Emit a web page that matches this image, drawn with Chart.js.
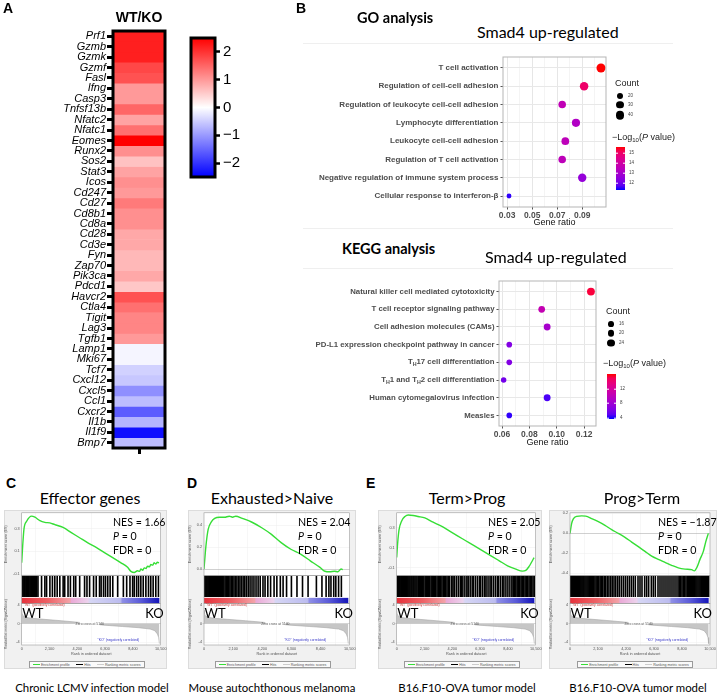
<!DOCTYPE html>
<html>
<head>
<meta charset="utf-8">
<script src="https://cdn.jsdelivr.net/npm/chart.js@4.4.1/dist/chart.umd.min.js"></script>
<style>
  body { margin: 0; background: #fff; }
  #page { position: relative; width: 720px; height: 694px; overflow: hidden; font-family: 'Liberation Sans', Arial, sans-serif; color: #000; }
  canvas { position: absolute; }
  .frame { position: absolute; background: #f1f1f1; border: 1px solid #dcdcdc; box-sizing: border-box; }
  .sep { position: absolute; height: 1px; background: #efefef; }
  .leg { position: absolute; background: #fafafa; border: 0.6px solid #9a9a9a; box-sizing: border-box; display: flex; align-items: center; justify-content: space-around; font-size: 3.6px; color: #555; }
  .leg span i { display: inline-block; width: 7px; height: 0; vertical-align: middle; margin-right: 1px; }
</style>
</head>
<body>
<div id="page">
  <div class="sep" style="left:303px;top:43px;width:370px"></div>
  <div class="sep" style="left:303px;top:228px;width:370px"></div>
  <div class="sep" style="left:303px;top:268px;width:370px"></div>

  <canvas id="heat" width="180" height="460" style="left:0;top:0"></canvas>
  <canvas id="heatBar" width="70" height="190" style="left:185px;top:0"></canvas>
  <canvas id="go" width="340" height="185" style="left:290px;top:45px"></canvas>
  <canvas id="kegg" width="340" height="180" style="left:290px;top:270px"></canvas>

  <div class="frame" style="left:4px;top:510px;width:163px;height:159px"></div>
  <div class="frame" style="left:188px;top:510px;width:168px;height:159px"></div>
  <div class="frame" style="left:378px;top:510px;width:164px;height:159px"></div>
  <div class="frame" style="left:549px;top:510px;width:168px;height:159px"></div>
  <canvas id="gC" width="163" height="159" style="left:4px;top:510px"></canvas>
  <canvas id="gD" width="168" height="159" style="left:188px;top:510px"></canvas>
  <canvas id="gE1" width="164" height="159" style="left:378px;top:510px"></canvas>
  <canvas id="gE2" width="168" height="159" style="left:549px;top:510px"></canvas>
</div>

<script>
'use strict';

// ---- panel A: heatmap ----
var genes = ['Prf1', 'Gzmb', 'Gzmk', 'Gzmf', 'Fasl', 'Ifng', 'Casp3', 'Tnfsf13b', 'Nfatc2', 'Nfatc1',
  'Eomes', 'Runx2', 'Sos2', 'Stat3', 'Icos', 'Cd247', 'Cd27', 'Cd8b1', 'Cd8a', 'Cd28',
  'Cd3e', 'Fyn', 'Zap70', 'Pik3ca', 'Pdcd1', 'Havcr2', 'Ctla4', 'Tigit', 'Lag3', 'Tgfb1',
  'Lamp1', 'Mki67', 'Tcf7', 'Cxcl12', 'Cxcl5', 'Ccl1', 'Cxcr2', 'Il1b', 'Il1f9', 'Bmp7'];
var wtko = [2.2, 2.2, 2.2, 1.8, 1.7, 1.0, 1.0, 1.5, 0.9, 1.4,
  2.5, 1.1, 0.6, 0.9, 1.1, 1.0, 1.3, 1.1, 1.1, 0.85,
  0.85, 0.7, 0.7, 0.85, 0.55, 1.7, 1.4, 1.2, 1.2, 1.0,
  -0.1, -0.1, -0.45, -0.55, -1.1, -0.65, -1.6, -0.75, -2.35, -0.65];
var heatTicks = [-2, -1, 0, 1, 2];

// ---- panel B: GO / KEGG ----
var goTerms = ['T cell activation', 'Regulation of cell-cell adhesion', 'Regulation of leukocyte cell-cell adhesion',
  'Lymphocyte differentiation', 'Leukocyte cell-cell adhesion', 'Regulation of T cell activation',
  'Negative regulation of immune system process', 'Cellular response to interferon-\u03b2'];
var goRatio = [0.105, 0.0915, 0.074, 0.085, 0.0765, 0.074, 0.09, 0.0315];
var goCount = [44, 39, 31, 36, 32, 31, 38, 13];
var goLogP = [15.6, 15.0, 13.6, 13.2, 13.5, 13.5, 12.6, 11.4];
var goSizeLegend = [20, 30, 40];
var goColorTicks = [12, 13, 14, 15];

var keggTerms = ['Natural killer cell mediated cytotoxicity', 'T cell receptor signaling pathway',
  'Cell adhesion molecules (CAMs)', 'PD-L1 expression checkpoint pathway in cancer',
  'T_H17 cell differentiation', 'T_H1 and T_H2 cell differentiation',
  'Human cytomegalovirus infection', 'Measles'];
var keggRatio = [0.125, 0.089, 0.093, 0.0653, 0.0653, 0.0612, 0.093, 0.0653];
var keggCount = [29, 21, 22, 15, 15, 14, 22, 15];
var keggLogP = [15.5, 10.5, 8.5, 6.5, 6.5, 5.8, 4.5, 4.0];
var keggSizeLegend = [16, 20, 24];
var keggColorTicks = [4, 8, 12];

// ---- panels C-E: GSEA ----
var effRank = [0, 75, 175, 375, 750, 1000, 1375, 1750, 2125, 2500, 3125, 3750, 4375, 5000, 5625, 6250, 6875, 7500,
  8000, 8250, 8500, 8750, 8900, 9000, 9150, 9250, 9400, 9500, 9650, 9750, 9900, 10000, 10125, 10250, 10375];
var effES = [0, 0.15, 0.30, 0.365, 0.41, 0.40, 0.37, 0.355, 0.35, 0.335, 0.31, 0.265, 0.22, 0.175, 0.135, 0.09, 0.045, 0.0,
  -0.04, -0.075, -0.085, -0.07, -0.075, -0.055, -0.065, -0.045, -0.05, -0.03, -0.035, -0.015, -0.02, 0.0, -0.01, 0.005, 0.0];
var effHits = [30, 110, 190, 260, 340, 420, 500, 560, 640, 720, 800, 880, 960, 1050, 1130, 1230, 1500, 1750, 1880, 2130,
  2320, 2500, 2680, 2880, 3130, 3250, 3500, 3680, 3930, 4080, 4380, 4750, 4930, 5130, 5430, 5630, 5880, 6000, 6180, 6330,
  6500, 6680, 6880, 7250, 7680, 7930, 8180, 8380, 8500, 8680, 8830, 9000, 9180, 9380, 9580, 9750, 9930, 10130, 10330];

var exhRank = [0, 140, 300, 540, 770, 1120, 1470, 1820, 2060, 2290, 2760, 3460, 4160, 4860, 5560, 6260, 6960, 7660,
  8360, 8710, 9060, 9410, 9650, 9880, 10000];
var exhES = [0, 0.21, 0.36, 0.43, 0.46, 0.47, 0.47, 0.48, 0.47, 0.48, 0.46, 0.425, 0.375, 0.315, 0.24, 0.18, 0.135, 0.075,
  0.015, -0.02, -0.025, -0.02, -0.025, 0.0, -0.005];
var exhHits = [20, 80, 150, 210, 280, 350, 410, 480, 550, 610, 680, 750, 820, 890, 960, 1040, 1110, 1190, 1270, 1350,
  1430, 1520, 1600, 1690, 1780, 1870, 1960, 2060, 2160, 2260, 2370, 2480, 2590, 2700, 2820, 2940, 3060, 3190, 3320, 3460,
  3600, 3750, 3900, 4050, 4250, 4400, 4600, 4800, 5050, 5250, 5500, 5700, 5950, 6300, 6700, 7100, 7500, 8100, 8500, 8800,
  9000, 9150, 9350, 9500, 9700, 9900];

var termRank = [0, 75, 175, 375, 625, 875, 1250, 1625, 2125, 2750, 3375, 4000, 4625, 5250, 5875, 6500, 7125, 7750,
  8375, 9000, 9500, 9750, 10000, 10175, 10375];
var termES = [0, 0.15, 0.28, 0.37, 0.415, 0.43, 0.425, 0.415, 0.40, 0.357, 0.317, 0.267, 0.217, 0.167, 0.117, 0.067, 0.017, -0.033,
  -0.083, -0.117, -0.137, -0.13, -0.09, -0.05, 0.0];
var termHits = [20, 80, 140, 200, 260, 330, 390, 450, 520, 580, 650, 720, 790, 860, 930, 1000, 1080, 1150, 1230, 1300,
  1380, 1460, 1540, 1650, 1720, 1800, 1880, 1960, 2050, 2150, 2230, 2310, 2400, 2500, 2600, 2680, 2760, 2850, 2950, 3050,
  3150, 3240, 3330, 3420, 3520, 3600, 3700, 3800, 3900, 4000, 4150, 4250, 4350, 4500, 4650, 4800, 4900, 5000, 5150, 5300,
  5400, 5550, 5700, 5800, 5950, 6100, 6250, 6350, 6500, 6650, 6750, 6900, 7050, 7150, 7300, 7450, 7600, 7700, 7850, 8000,
  8100, 8250, 8400, 8550, 8700, 8800, 8900, 9000, 9100, 9200, 9300, 9400, 9500, 9600, 9700, 9800, 9900, 10000, 10100, 10200,
  10300, 10400];

var progRank = [0, 125, 250, 500, 875, 1175, 1625, 2125, 2625, 3125, 3625, 4125, 4625, 5125, 5625, 6125, 6625, 7125,
  7625, 8125, 8625, 9125, 9325, 9500, 9750, 10000, 10175, 10375];
var progES = [0, 0.1, 0.145, 0.17, 0.175, 0.172, 0.148, 0.117, 0.08, 0.037, 0.0, -0.04, -0.087, -0.133, -0.18, -0.227, -0.26, -0.29,
  -0.32, -0.345, -0.357, -0.363, -0.375, -0.345, -0.26, -0.18, -0.087, 0.0];
var progHits = [15, 70, 130, 190, 250, 310, 370, 430, 500, 560, 630, 690, 760, 830, 900, 970, 1040, 1120, 1200, 1280,
  1360, 1440, 1520, 1600, 1690, 1780, 1870, 1960, 2060, 2160, 2260, 2360, 2460, 2570, 2680, 2800, 2920, 3050, 3170, 3300,
  3430, 3570, 3700, 3850, 4000, 4150, 4300, 4450, 4600, 4750, 4900, 5100, 5250, 5400, 5600, 5750, 5900, 6100, 6250, 6400,
  6600, 6750, 6900, 7050, 7200, 7350, 7500, 7650, 7800, 7950, 8100, 8200, 8300, 8400, 8500, 8600, 8700, 8800, 8880, 8960,
  9040, 9120, 9200, 9280, 9360, 9440, 9520, 9600, 9680, 9760, 9840, 9920, 10000, 10080, 10160, 10240, 10320, 10400];

// ranked list metric (signal2noise), shared look for all four
var rankX = [0, 30, 100, 300, 700, 1500, 3000, 4300, 5140, 6200, 7600, 8800, 9700, 10050, 10250, 10350, 10400];
var rankY = [2.9, 2.2, 1.7, 1.4, 1.2, 1.0, 0.65, 0.3, 0, -0.3, -0.6, -0.85, -1.15, -1.5, -2.2, -3.0, -4.3];

// colour band under the hits
var bandRank = [0, 2000, 3650, 3750, 5000, 5150, 7450, 7600, 9000, 10400];
var bandColor = ['#e6323c', '#ee6266', '#f3a3a8', '#eaa9d6', '#ecd2ec', '#d6d6f4', '#bcbcef', '#8f8fe6', '#5a5ad8', '#1414b8'];

var page = document.getElementById('page');
var ARIAL = '"Liberation Sans", Arial, sans-serif';
var LATO = 'Lato, "Open Sans", sans-serif';

function put(html, x, y, css, align) {
  var d = document.createElement('div');
  d.innerHTML = html;
  d.style.cssText = 'position:absolute;white-space:nowrap;line-height:1;left:' + x + 'px;top:' + y + 'px;' + (css || '');
  var tx = align === 'c' ? '-50%' : (align === 'r' ? '-100%' : '0');
  d.style.transform = 'translate(' + tx + ',-50%)';
  page.appendChild(d);
  return d;
}

function heatColor(v) {
  var t = Math.max(-1, Math.min(1, v / 2.5));
  if (t >= 0) {
    var c = Math.round(255 * (1 - t));
    return 'rgb(255,' + c + ',' + c + ')';
  }
  var d = Math.round(255 * (1 + t));
  return 'rgb(' + d + ',' + d + ',255)';
}

function pColor(v, lo, hi) {
  var t = Math.max(0, Math.min(1, (v - lo) / (hi - lo)));
  return 'rgb(' + Math.round(255 * Math.pow(t, 0.45)) + ',0,' + Math.round(255 * Math.pow(1 - t, 0.45)) + ')';
}

var boxPlugin = {
  id: 'box',
  afterDraw: function (chart, args, opts) {
    var a = chart.chartArea, ctx = chart.ctx;
    ctx.save();
    ctx.strokeStyle = opts.color;
    ctx.lineWidth = opts.width;
    ctx.strokeRect(a.left, a.top, a.right - a.left, a.bottom - a.top);
    ctx.restore();
  }
};

// ---------- heatmap ----------
new Chart(document.getElementById('heat'), {
  type: 'bar',
  data: {
    labels: ['WT/KO'],
    datasets: genes.map(function (g, i) {
      return { label: g, data: [[i, i + 1]], backgroundColor: heatColor(wtko[i]), borderWidth: 0,
        barPercentage: 1, categoryPercentage: 1 };
    })
  },
  options: {
    responsive: false, animation: false,
    layout: { padding: { top: 31, right: 15, bottom: 4, left: 0 } },
    plugins: { legend: { display: false }, tooltip: { enabled: false }, box: { color: '#000', width: 3 } },
    scales: {
      x: { stacked: true, ticks: { display: false }, border: { display: false },
        grid: { offset: false, drawOnChartArea: false, tickLength: 6, tickWidth: 3, tickColor: '#000' },
        afterFit: function (s) { s.height = 8; } },
      y: { min: 0, max: 40, reverse: true,
        afterBuildTicks: function (s) { s.ticks = genes.map(function (g, i) { return { value: i + 0.5 }; }); },
        ticks: { autoSkip: false, padding: 1, color: '#000',
          font: { family: ARIAL, style: 'italic', size: 11 },
          callback: function (v, idx) { return genes[idx]; } },
        border: { display: false },
        grid: { drawOnChartArea: false, tickLength: 6, tickWidth: 3, tickColor: '#000' },
        afterFit: function (s) { s.width = 113; } }
    }
  },
  plugins: [boxPlugin]
});

new Chart(document.getElementById('heatBar'), {
  type: 'bar',
  data: {
    labels: [''],
    datasets: [{ data: [[-2.5, 2.5]], barPercentage: 1, categoryPercentage: 1, borderWidth: 0,
      backgroundColor: function (c) {
        var a = c.chart.chartArea;
        if (!a) return '#fff';
        var g = c.chart.ctx.createLinearGradient(0, a.bottom, 0, a.top);
        g.addColorStop(0, heatColor(-2.5));
        g.addColorStop(0.5, heatColor(0));
        g.addColorStop(1, heatColor(2.5));
        return g;
      } }]
  },
  options: {
    responsive: false, animation: false,
    layout: { padding: { top: 38, right: 0, bottom: 13, left: 6 } },
    plugins: { legend: { display: false }, tooltip: { enabled: false }, box: { color: '#000', width: 3 } },
    scales: {
      x: { display: false },
      y: { position: 'right', min: -2.5, max: 2.5,
        afterBuildTicks: function (s) { s.ticks = heatTicks.map(function (v) { return { value: v }; }); },
        ticks: { padding: 3, color: '#000', font: { family: ARIAL, size: 15 },
          callback: function (v) { return v < 0 ? '\u2212' + Math.abs(v) : String(v); } },
        border: { display: false },
        grid: { drawOnChartArea: false, tickLength: 5, tickWidth: 2.5, tickColor: '#000' },
        afterFit: function (s) { s.width = 40; } }
    }
  },
  plugins: [boxPlugin]
});

// ---------- dot plots ----------
var rowLabels = {
  id: 'rowLabels',
  afterDraw: function (chart, args, opts) {
    var ctx = chart.ctx, ys = chart.scales.y, xr = chart.chartArea.left - 4.5;
    var main = 'bold ' + opts.size + 'px ' + ARIAL;
    var sub = 'bold ' + (opts.size * 0.68) + 'px ' + ARIAL;
    ctx.save();
    ctx.fillStyle = '#4d4d4d';
    ctx.textBaseline = 'middle';
    ctx.textAlign = 'left';
    opts.labels.forEach(function (txt, i) {
      var py = ys.getPixelForValue(i);
      var parts = txt.split('_H');
      var w = 0;
      parts.forEach(function (p, k) {
        ctx.font = main; w += ctx.measureText(p).width;
        if (k < parts.length - 1) { ctx.font = sub; w += ctx.measureText('H').width; }
      });
      var x = xr - w;
      parts.forEach(function (p, k) {
        ctx.font = main; ctx.fillText(p, x, py); x += ctx.measureText(p).width;
        if (k < parts.length - 1) { ctx.font = sub; ctx.fillText('H', x, py + opts.size * 0.32); x += ctx.measureText('H').width; }
      });
    });
    ctx.restore();
  }
};

function dotPlot(id, terms, ratio, count, logp, cfg) {
  var majors = cfg.majors;
  function isMajor(v) { return majors.some(function (m) { return Math.abs(m - v) < 1e-6; }); }
  new Chart(document.getElementById(id), {
    type: 'bubble',
    data: {
      datasets: [{
        data: terms.map(function (t, i) { return { x: ratio[i], y: i, r: cfg.k * Math.sqrt(count[i]) }; }),
        backgroundColor: logp.map(function (v) { return pColor(v, cfg.lo, cfg.hi); }),
        borderWidth: 0
      }]
    },
    options: {
      responsive: false, animation: false,
      layout: { padding: cfg.pad },
      plugins: { legend: { display: false }, tooltip: { enabled: false },
        box: { color: '#b5b5b5', width: 1 }, rowLabels: { labels: terms, size: cfg.font } },
      scales: {
        x: { type: 'linear', min: cfg.xmin, max: cfg.xmax,
          afterBuildTicks: function (s) { s.ticks = cfg.ticks.map(function (v) { return { value: v }; }); },
          ticks: { padding: 1, color: '#4d4d4d', font: { family: ARIAL, weight: 'bold', size: 8.5 },
            autoSkip: false, maxRotation: 0, minRotation: 0,
            callback: function (v) { return isMajor(v) ? v.toFixed(2) : ''; } },
          title: { display: true, text: 'Gene ratio', color: '#111', font: { family: ARIAL, size: 9 }, padding: { top: 0, bottom: 2 } },
          border: { display: false },
          grid: { tickLength: 2.5,
            color: function (c) { return isMajor(c.tick.value) ? '#e6e6e6' : '#f4f4f4'; },
            tickColor: function (c) { return isMajor(c.tick.value) ? '#555' : 'rgba(0,0,0,0)'; } },
          afterFit: function (s) { s.height = cfg.xh; } },
        y: { type: 'linear', min: -0.6, max: terms.length - 0.4, reverse: true,
          afterBuildTicks: function (s) { s.ticks = terms.map(function (t, i) { return { value: i }; }); },
          ticks: { display: false },
          border: { display: false },
          grid: { color: '#e8e8e8', tickLength: 2.5, tickColor: '#555' },
          afterFit: function (s) { s.width = cfg.yw; } }
      }
    },
    plugins: [boxPlugin, rowLabels]
  });
}

dotPlot('go', goTerms, goRatio, goCount, goLogP, {
  k: 0.68, lo: 11.3, hi: 15.6, font: 8, yw: 213, xh: 23,
  pad: { top: 12, right: 24, bottom: 0, left: 0 },
  xmin: 0.0267, xmax: 0.109, majors: [0.03, 0.05, 0.07, 0.09],
  ticks: [0.03, 0.04, 0.05, 0.06, 0.07, 0.08, 0.09, 0.10]
});
dotPlot('kegg', keggTerms, keggRatio, keggCount, keggLogP, {
  k: 0.73, lo: 3.7, hi: 16, font: 7.8, yw: 209, xh: 24,
  pad: { top: 11, right: 34, bottom: 0, left: 0 },
  xmin: 0.0578, xmax: 0.1287, majors: [0.06, 0.08, 0.10, 0.12],
  ticks: [0.06, 0.07, 0.08, 0.09, 0.10, 0.11, 0.12]
});

function dotLegend(x, yCount, sizes, k, yBar, barTop, barBot, lo, hi, cticks) {
  put('Count', x, yCount, 'font-family:' + ARIAL + ';font-size:9px;color:#222');
  var ys = [yCount + 13, yCount + 22, yCount + 32];
  sizes.forEach(function (s, i) {
    var r = k * Math.sqrt(s);
    put('', x + 5 - r, ys[i], 'width:' + (2 * r) + 'px;height:' + (2 * r) + 'px;border-radius:50%;background:#000');
    put(String(s), x + 13, ys[i], 'font-family:' + ARIAL + ';font-size:4.5px;color:#444');
  });
  put('\u2212Log<sub style="font-size:6px">10</sub>(<i>P</i> value)', x - 3, yBar, 'font-family:' + ARIAL + ';font-size:9px;color:#222');
  var stops = [];
  for (var i = 0; i <= 10; i++) stops.push(pColor(lo + (hi - lo) * i / 10, lo, hi) + ' ' + (i * 10) + '%');
  var bar = document.createElement('div');
  bar.style.cssText = 'position:absolute;left:' + (x + 1) + 'px;top:' + barTop + 'px;width:9px;height:' + (barBot - barTop) +
    'px;background:linear-gradient(to top,' + stops.join(',') + ')';
  page.appendChild(bar);
  cticks.forEach(function (v) {
    var py = barBot - (v - lo) / (hi - lo) * (barBot - barTop);
    put(String(v), x + 14, py, 'font-family:' + ARIAL + ';font-size:4.5px;color:#444');
    put('', x + 1, py, 'width:2px;height:0.6px;background:#fff');
    put('', x + 8, py, 'width:2px;height:0.6px;background:#fff');
  });
}
dotLegend(615, 83, goSizeLegend, 0.68, 138, 147, 190, 11.3, 15.6, goColorTicks);
dotLegend(606, 311, keggSizeLegend, 0.73, 364, 374, 419, 3.7, 16, keggColorTicks);

// ---------- GSEA ----------
var gseaDecor = {
  id: 'gseaDecor',
  beforeDraw: function (chart) {
    var a = chart.chartArea, ctx = chart.ctx;
    ctx.save();
    ctx.fillStyle = '#fff';
    ctx.fillRect(a.left, a.top, a.right - a.left, a.bottom - a.top);
    ctx.restore();
  },
  beforeDatasetsDraw: function (chart) {
    var ctx = chart.ctx, x = chart.scales.x, yh = chart.scales.yHit;
    var x0 = x.getPixelForValue(0), x1 = x.getPixelForValue(10400);
    var g = ctx.createLinearGradient(x0, 0, x1, 0);
    bandRank.forEach(function (r, i) { g.addColorStop(r / 10400, bandColor[i]); });
    var t = yh.getPixelForValue(0.2), b = yh.getPixelForValue(0.0);
    ctx.save();
    ctx.fillStyle = g;
    ctx.fillRect(x0, t, x1 - x0, b - t);
    ctx.restore();
  },
  afterDraw: function (chart) {
    var a = chart.chartArea, ctx = chart.ctx, x = chart.scales.x, yr = chart.scales.yRank;
    ctx.save();
    ctx.strokeStyle = '#9a9a9a';
    ctx.lineWidth = 0.6;
    ['yES', 'yHit', 'yRank'].forEach(function (k) {
      var s = chart.scales[k];
      ctx.strokeRect(a.left, s.top, a.right - a.left, s.bottom - s.top);
    });
    ctx.font = '3.4px ' + ARIAL;
    ctx.textBaseline = 'middle';
    ctx.fillStyle = '#d03838';
    ctx.textAlign = 'left';
    ctx.fillText('"WT" (positively correlated)', a.left + 2, yr.top + 2);
    ctx.fillStyle = '#3535c8';
    ctx.textAlign = 'center';
    ctx.fillText('"KO" (negatively correlated)', x.getPixelForValue(7300), yr.getPixelForValue(-3.6));
    var zx = x.getPixelForValue(5140), zy = yr.getPixelForValue(0);
    ctx.fillStyle = '#fff';
    ctx.fillRect(zx - 10, zy - 2, 20, 4);
    ctx.fillStyle = '#555';
    ctx.fillText('Zero cross at 5140', zx, zy);
    ctx.restore();
  }
};

var tiny = { family: ARIAL, size: 3.8 };

function gsea(p) {
  new Chart(document.getElementById(p.id), {
    type: 'line',
    data: {
      datasets: [
        { type: 'line', yAxisID: 'yES', data: p.rank.map(function (r, i) { return { x: r, y: p.es[i] }; }),
          borderColor: '#36de36', borderWidth: 1.4, pointRadius: 0, fill: false, cubicInterpolationMode: 'monotone' },
        { type: 'bar', yAxisID: 'yHit', data: p.hits.map(function (r) { return { x: r, y: [0.24, 1] }; }),
          backgroundColor: '#000', barThickness: 0.95, borderWidth: 0 },
        { type: 'line', yAxisID: 'yRank', data: rankX.map(function (r, i) { return { x: r, y: rankY[i] }; }),
          borderColor: '#a8a8a8', borderWidth: 0.6, backgroundColor: '#c6c6c6', fill: 'origin', pointRadius: 0 }
      ]
    },
    options: {
      responsive: false, animation: false,
      layout: { padding: { top: 1.5, bottom: 12, left: 0, right: p.padR } },
      plugins: { legend: { display: false }, tooltip: { enabled: false } },
      scales: {
        x: { type: 'linear', min: 0, max: 10500, offset: false,
          ticks: { stepSize: 2000, includeBounds: false, font: tiny, color: '#555', padding: 0.5, maxRotation: 0 },
          title: { display: true, text: 'Rank in ordered dataset', font: tiny, color: '#555', padding: { top: 0, bottom: 1 } },
          grid: { color: '#eeeeee', lineWidth: 0.5, tickLength: 1.5 },
          border: { display: false },
          afterFit: function (s) { s.height = 12; } },
        // stacked axes are laid out bottom-up in declaration order
        yRank: { type: 'linear', position: 'left', stack: 'g', stackWeight: 42, min: -4.6, max: 4.4,
          ticks: { stepSize: 2, includeBounds: false, font: tiny, color: '#555', padding: 0.5 },
          title: { display: true, text: 'Ranked list metric (Signal2Noise)', font: { family: ARIAL, size: 3.4 }, color: '#555', padding: 0 },
          grid: { lineWidth: 0.5, tickLength: 1.5,
            color: function (c) { return Math.abs(c.tick.value) < 1e-6 ? '#b0b0b0' : '#efefef'; } },
          border: { display: false },
          afterFit: function (s) { s.width = p.yW; } },
        yHit: { type: 'linear', position: 'left', stack: 'g', stackWeight: 28, min: 0, max: 1,
          ticks: { display: false }, grid: { display: false }, border: { display: false },
          afterFit: function (s) { s.width = p.yW; } },
        yES: { type: 'linear', position: 'left', stack: 'g', stackWeight: 63.5, min: p.esMin, max: p.esMax,
          ticks: { stepSize: 0.1, includeBounds: false, font: tiny, color: '#555', padding: 0.5,
            callback: function (v) { return v.toFixed(1); } },
          title: { display: true, text: 'Enrichment score (ES)', font: tiny, color: '#555', padding: 0 },
          grid: { lineWidth: 0.5, tickLength: 1.5,
            color: function (c) { return Math.abs(c.tick.value) < 1e-6 ? '#a0a0a0' : '#ececec'; } },
          border: { display: false },
          afterFit: function (s) { s.width = p.yW; } }
      }
    },
    plugins: [gseaDecor]
  });
}

var gseaPanels = [
  { id: 'gC', left: 4, width: 163, plotL: 21.7, plotR: 161.7, rank: effRank, es: effES, hits: effHits, esMin: -0.113, esMax: 0.439,
    title: 'Effector genes', caption: 'Chronic LCMV infection model', nes: '1.66', cx: 90, capX: 92, nesX: 113 },
  { id: 'gD', left: 188, width: 168, plotL: 204, plotR: 351, rank: exhRank, es: exhES, hits: exhHits, esMin: -0.06, esMax: 0.511,
    title: 'Exhausted&gt;Naive', caption: 'Mouse autochthonous melanoma', nes: '2.04', cx: 272, capX: 272, nesX: 298 },
  { id: 'gE1', left: 378, width: 164, plotL: 396.7, plotR: 536.7, rank: termRank, es: termES, hits: termHits, esMin: -0.183, esMax: 0.452,
    title: 'Term&gt;Prog', caption: 'B16.F10-OVA tumor model', nes: '2.05', cx: 467, capX: 467, nesX: 488 },
  { id: 'gE2', left: 549, width: 168, plotL: 570, plotR: 710, rank: progRank, es: progES, hits: progHits, esMin: -0.423, esMax: 0.206,
    title: 'Prog&gt;Term', caption: 'B16.F10-OVA tumor model', nes: '\u22121.87', cx: 642, capX: 638, nesX: 658 }
];

gseaPanels.forEach(function (p) {
  p.yW = p.plotL - p.left;
  p.padR = p.left + p.width - p.plotR;
  gsea(p);
  put(p.title, p.cx, 498, 'font-family:' + LATO + ';font-size:16px', 'c');
  put(p.caption, p.capX, 688, 'font-family:' + LATO + ';font-size:11.4px', 'c');
  var f = 'font-family:' + LATO + ';font-size:10.6px';
  put('NES = ' + p.nes, p.nesX, 522, f);
  put('<i>P</i> = 0', p.nesX, 536, f);
  put('FDR = 0', p.nesX, 550, f);
  put('WT', p.plotL + 0.5, 613, 'font-family:' + LATO + ';font-size:13px');
  put('KO', p.plotR + 2, 613, 'font-family:' + LATO + ';font-size:13px', 'r');
  var legX = (p.plotL + p.plotR) / 2;
  var leg = document.createElement('div');
  leg.className = 'leg';
  leg.style.left = (legX - 63) + 'px';
  leg.style.top = '661px';
  leg.style.width = '116px';
  leg.style.height = '7px';
  leg.innerHTML = '<span><i style="border-top:1px solid #36de36"></i>Enrichment profile</span>' +
    '<span><i style="border-top:0.8px solid #000"></i>Hits</span>' +
    '<span><i style="border-top:0.6px solid #ccc"></i>Ranking metric scores</span>';
  page.appendChild(leg);
});

// ---------- headings ----------
put('A', 3, 8, 'font-weight:bold;font-size:14px');
put('B', 296, 8, 'font-weight:bold;font-size:14px');
put('C', 6, 483, 'font-weight:bold;font-size:14px');
put('D', 187, 483, 'font-weight:bold;font-size:14px');
put('E', 366, 483, 'font-weight:bold;font-size:14px');
put('WT/KO', 139, 17, 'font-weight:bold;font-size:14px', 'c');
put('GO analysis', 357, 18, 'font-family:' + LATO + ';font-weight:bold;font-size:14.5px');
put('Smad4 up-regulated', 477, 32, 'font-family:' + LATO + ';font-size:16px');
put('KEGG analysis', 342, 249, 'font-family:' + LATO + ';font-weight:bold;font-size:14.5px');
put('Smad4 up-regulated', 485, 257, 'font-family:' + LATO + ';font-size:16px');
</script>
</body>
</html>
